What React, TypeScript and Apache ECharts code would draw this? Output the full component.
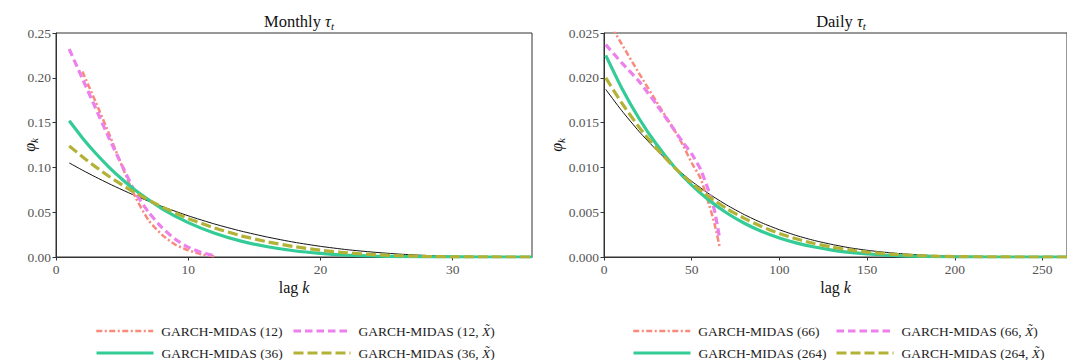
import React, { useEffect, useRef } from "react";
import * as echarts from "echarts";

// ---------- data ----------
const monthlyLags = [1, 2, 3, 4, 5, 6, 8, 10, 12, 14, 16, 18, 20, 22, 24, 26, 28, 30, 32, 34, 36];
const monthlyTrue = [0.105, 0.0969, 0.0892, 0.0819, 0.075, 0.0684, 0.0565, 0.046, 0.0368, 0.0289, 0.0222, 0.0165, 0.0119, 0.0082, 0.0054, 0.0032, 0.0017, 0.0008, 0.0003, 0.0001, 0];
const monthly36 = [0.152, 0.1329, 0.1158, 0.1004, 0.0867, 0.0745, 0.0541, 0.0384, 0.0265, 0.0177, 0.0114, 0.007, 0.0041, 0.0022, 0.0011, 0.0005, 0.0002, 0.0001, 0, 0, 0];
const monthly36X = [0.124, 0.1118, 0.1006, 0.0901, 0.0805, 0.0716, 0.056, 0.043, 0.0324, 0.0237, 0.0169, 0.0116, 0.0076, 0.0047, 0.0027, 0.0014, 0.0007, 0.0002, 0.0001, 0, 0];
const monthly12Lags = [2, 3, 4, 5, 6, 7, 8, 9, 10, 11, 12];
const monthly12 = [0.207, 0.173, 0.138, 0.101, 0.067, 0.041, 0.025, 0.014, 0.0075, 0.003, 0.0008];
const monthly12XLags = [1, 2, 3, 4, 5, 6, 7, 8, 9, 10, 11, 12];
const monthly12X = [0.232, 0.199, 0.166, 0.133, 0.102, 0.072, 0.05, 0.033, 0.02, 0.011, 0.005, 0.0012];

const dailyLags = [1, 10, 20, 30, 40, 50, 60, 70, 80, 90, 100, 110, 120, 130, 140, 150, 160, 170, 180, 190, 200, 220, 240, 264];
const dailyTrue = [0.0187, 0.01636, 0.01401, 0.01193, 0.01008, 0.00845, 0.00703, 0.0058, 0.00473, 0.00381, 0.00304, 0.00238, 0.00184, 0.0014, 0.00103, 0.00075, 0.00053, 0.00036, 0.00023, 0.00014, 0.00008, 0.00002, 0, 0];
const daily264 = [0.0225, 0.0189, 0.01546, 0.01255, 0.01008, 0.00802, 0.00632, 0.00491, 0.00377, 0.00285, 0.00212, 0.00155, 0.00111, 0.00077, 0.00052, 0.00034, 0.00022, 0.00013, 0.00008, 0.00004, 0.00002, 0, 0, 0];
const daily264X = [0.02, 0.01722, 0.01449, 0.0121, 0.01003, 0.00824, 0.00671, 0.0054, 0.00431, 0.00339, 0.00262, 0.002, 0.0015, 0.0011, 0.00079, 0.00055, 0.00037, 0.00024, 0.00015, 0.00009, 0.00005, 0.00001, 0, 0];
const dailyShortLags = [1, 10, 20, 30, 40, 45, 50, 55, 60, 63, 66];
const daily66 = [0.0268, 0.0238, 0.0205, 0.0173, 0.0142, 0.0125, 0.0105, 0.0088, 0.0058, 0.0037, 0.0011];
const daily66X = [0.0237, 0.0217, 0.0196, 0.017, 0.0142, 0.0128, 0.0115, 0.0098, 0.0072, 0.0052, 0.002];

const monthlyXTicks = [0, 10, 20, 30];
const dailyXTicks = [0, 50, 100, 150, 200, 250];

const names = {
  m12: "GARCH-MIDAS (12)",
  m12X: "GARCH-MIDAS (12, X)",
  m36: "GARCH-MIDAS (36)",
  m36X: "GARCH-MIDAS (36, X)",
  d66: "GARCH-MIDAS (66)",
  d66X: "GARCH-MIDAS (66, X)",
  d264: "GARCH-MIDAS (264)",
  d264X: "GARCH-MIDAS (264, X)",
};

// ---------- styles ----------
const FONT = "Liberation Serif";
const SALMON = "#f88a7c";
const VIOLET = "#ec80ec";
const GREEN = "#33cb96";
const OLIVE = "#b2b236";
const BLACK = "#111111";

const SALMON_DASH = [6, 2.5, 2, 2.5];
const VIOLET_DASH = [7.5, 4];
const OLIVE_DASH = [10, 4];

const pairs = (xs: number[], ys: number[]) => xs.map((x, i) => [x, ys[i]]);

export default function App() {
  const ref = useRef<HTMLDivElement>(null);

  useEffect(() => {
    document.body.style.margin = "0";
    const chart = echarts.init(ref.current!, null, { renderer: "svg" });

    const gridL = { left: 56, top: 33, width: 476, height: 224 };
    const gridR = { left: 604, top: 33, width: 466, height: 224 };

    const tok = (size: number, italic: boolean, color: string, extra: any = {}) => ({
      fontFamily: FONT,
      fontSize: size,
      fontWeight: "normal",
      fontStyle: italic ? "italic" : "normal",
      color,
      ...extra,
    });

    const nameRich = {
      i: tok(16, true, "#111", { lineHeight: 19 }),
      s: tok(11, true, "#111", { verticalAlign: "bottom", lineHeight: 11 }),
      n: tok(16, false, "#111", { lineHeight: 19 }),
    };

    const axisCommon = {
      axisLine: { show: true, lineStyle: { color: "#333", width: 1 } },
      axisTick: { show: true, length: 3.5, lineStyle: { color: "#333", width: 1 } },
      splitLine: { show: false },
      nameMoveOverlap: false,
      nameTextStyle: { ...tok(16, false, "#111"), rich: nameRich },
    };
    const labelCommon = tok(13.5, false, "#555");

    const legendItem = (name: string, left: number, top: number, color: string, type: any, width: number, tilde: boolean) => ({
      data: [name],
      left,
      top,
      padding: 0,
      itemWidth: 57,
      itemHeight: 14,
      selectedMode: false,
      itemStyle: { opacity: 0 },
      lineStyle: { color, type, width },
      formatter: (n: string) =>
        tilde ? "{r|" + n.replace(/, X\)$/, ", }{i|X\u0303}{r|)}") : "{r|" + n + "}",
      textStyle: {
        ...tok(13.5, false, "#222"),
        padding: [0, 0, 0, 3],
        rich: { r: tok(13.5, false, "#222"), i: tok(13.5, true, "#222") },
      },
    });

    const lineSeries = (name: string, xi: number, data: number[][], color: string, type: any, width: number, z: number) => ({
      name,
      type: "line",
      xAxisIndex: xi,
      yAxisIndex: xi,
      data,
      symbol: "none",
      showSymbol: false,
      smooth: 0.2,
      clip: true,
      z,
      lineStyle: { color, type, width },
      itemStyle: { color },
    });

    const titleRich = {
      n: tok(16.5, false, "#111", { lineHeight: 20 }),
      i: tok(16.5, true, "#111", { lineHeight: 20 }),
      s: tok(11, true, "#111", { verticalAlign: "bottom", lineHeight: 11 }),
    };
    const titleStyle = { ...tok(16.5, false, "#111"), rich: titleRich };

    chart.setOption({
      animation: false,
      backgroundColor: "#fff",
      textStyle: { fontFamily: FONT },
      title: [
        { text: "{n|Monthly }{i|τ}{s|t}", left: 294, top: 6, textAlign: "center", textStyle: titleStyle },
        { text: "{n|Daily }{i|τ}{s|t}", left: 836, top: 6, textAlign: "center", textStyle: titleStyle },
      ],
      grid: [
        { ...gridL, show: true, borderColor: "#333", borderWidth: 1, backgroundColor: "transparent" },
        { ...gridR, show: true, borderColor: "#333", borderWidth: 1, backgroundColor: "transparent" },
      ],
      xAxis: [
        {
          ...axisCommon,
          type: "value",
          gridIndex: 0,
          min: 0,
          max: 36,
          name: "{n|lag }{i|k}",
          nameLocation: "middle",
          nameGap: 21,
          axisTick: { ...axisCommon.axisTick, customValues: monthlyXTicks },
          axisLabel: { ...labelCommon, margin: 5, customValues: monthlyXTicks, formatter: (v: number) => String(v) },
        },
        {
          ...axisCommon,
          type: "value",
          gridIndex: 1,
          min: 0,
          max: 264,
          name: "{n|lag }{i|k}",
          nameLocation: "middle",
          nameGap: 21,
          axisTick: { ...axisCommon.axisTick, customValues: dailyXTicks },
          axisLabel: { ...labelCommon, margin: 5, customValues: dailyXTicks, formatter: (v: number) => String(v) },
        },
      ],
      yAxis: [
        {
          ...axisCommon,
          type: "value",
          gridIndex: 0,
          min: 0,
          max: 0.25,
          interval: 0.05,
          name: "{i|φ}{s|k}",
          nameLocation: "middle",
          nameRotate: 90,
          nameGap: 17,
          axisLabel: { ...labelCommon, margin: 5, formatter: (v: number) => v.toFixed(2) },
        },
        {
          ...axisCommon,
          type: "value",
          gridIndex: 1,
          min: 0,
          max: 0.025,
          interval: 0.005,
          name: "{i|φ}{s|k}",
          nameLocation: "middle",
          nameRotate: 90,
          nameGap: 38,
          axisLabel: { ...labelCommon, margin: 5, formatter: (v: number) => v.toFixed(3) },
        },
      ],
      legend: [
        legendItem(names.m12, 95, 324, SALMON, SALMON_DASH, 2.5, false),
        legendItem(names.m12X, 292, 324, VIOLET, VIOLET_DASH, 3, true),
        legendItem(names.m36, 95, 346, GREEN, "solid", 3, false),
        legendItem(names.m36X, 292, 346, OLIVE, OLIVE_DASH, 3, true),
        legendItem(names.d66, 632, 324, SALMON, SALMON_DASH, 2.5, false),
        legendItem(names.d66X, 835, 324, VIOLET, VIOLET_DASH, 3, true),
        legendItem(names.d264, 632, 346, GREEN, "solid", 3, false),
        legendItem(names.d264X, 835, 346, OLIVE, OLIVE_DASH, 3, true),
      ],
      series: [
        lineSeries("true-monthly", 0, pairs(monthlyLags, monthlyTrue), BLACK, "solid", 1, 1),
        lineSeries(names.m12, 0, pairs(monthly12Lags, monthly12), SALMON, SALMON_DASH, 2.5, 2),
        lineSeries(names.m12X, 0, pairs(monthly12XLags, monthly12X), VIOLET, VIOLET_DASH, 3.2, 3),
        lineSeries(names.m36, 0, pairs(monthlyLags, monthly36), GREEN, "solid", 3.2, 4),
        lineSeries(names.m36X, 0, pairs(monthlyLags, monthly36X), OLIVE, OLIVE_DASH, 3.2, 5),
        lineSeries("true-daily", 1, pairs(dailyLags, dailyTrue), BLACK, "solid", 1, 1),
        lineSeries(names.d66, 1, pairs(dailyShortLags, daily66), SALMON, SALMON_DASH, 2.5, 2),
        lineSeries(names.d66X, 1, pairs(dailyShortLags, daily66X), VIOLET, VIOLET_DASH, 3.2, 3),
        lineSeries(names.d264, 1, pairs(dailyLags, daily264), GREEN, "solid", 3.2, 4),
        lineSeries(names.d264X, 1, pairs(dailyLags, daily264X), OLIVE, OLIVE_DASH, 3.2, 5),
      ],
    });

    return () => chart.dispose();
  }, []);

  return <div ref={ref} style={{ position: "absolute", left: 0, top: 0, width: 1067, height: 360 }} />;
}
